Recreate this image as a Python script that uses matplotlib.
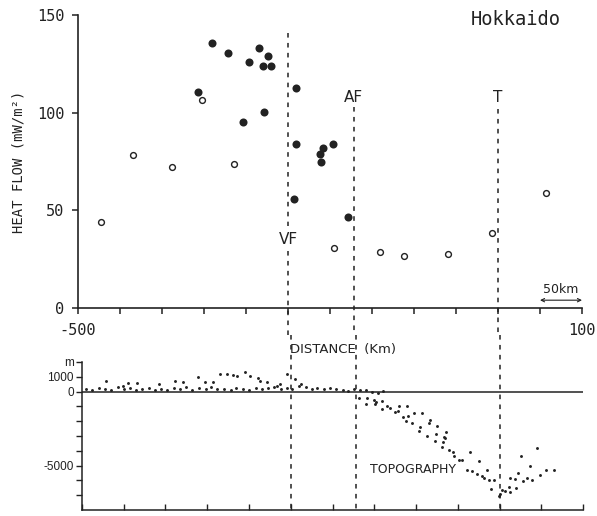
import matplotlib
matplotlib.use("Agg")
import matplotlib.pyplot as plt

# ---------------- data ----------------
# heat flow, filled symbols (distance km, mW/m2)
hf_filled_x = [-341, -322, -285, -274, -297, -280, -270, -357, -240, -278, -303,
               -240, -208, -196, -212, -211, -243, -179]
hf_filled_y = [135.7, 130.6, 133.1, 129.0, 126.0, 123.9, 123.9, 110.6, 112.6, 100.4,
               95.2, 84.0, 81.9, 84.0, 78.8, 74.8, 55.8, 46.6]
# heat flow, open symbols
hf_open_x = [-434, -388, -352, -314, -473, -195, -141, -112, -59, -7, 57]
hf_open_y = [78.3, 72.2, 106.5, 73.7, 44.0, 30.7, 28.7, 26.6, 27.6, 38.4, 58.9]

# topography (distance km, elevation m)
topo_land_x = [-495, -488, -480, -472, -465, -457, -450, -442, -435, -428, -420, -413,
               -405, -398, -390, -383, -375, -368, -360, -352, -345, -338, -330, -322,
               -315, -307, -300, -292, -285, -277, -270, -262, -255, -248, -240, -232,
               -225, -218, -210, -203, -196, -188, -181, -174, -167, -160, -153, -146,
               -139]
topo_land_y = [150, 100, 250, 200, 120, 280, 150, 220, 100, 180, 260, 140,
               200, 120, 250, 160, 300, 130, 220, 180, 280, 150, 200, 120,
               250, 180, 130, 220, 160, 260, 300, 200, 250, 150, 350, 280,
               200, 250, 180, 220, 150, 120, 60, 200, 80, 100, 0, -80, 50]
topo_high_x = [-471, -451, -445, -434, -408, -389, -379, -361, -353, -343, -335, -326,
               -319, -314, -305, -299, -289, -287, -278, -267, -263, -254, -245, -238]
topo_high_y = [700, 360, 590, 590, 540, 700, 630, 990, 630, 630, 1220, 1220,
               1150, 1030, 1330, 1030, 920, 700, 630, 400, 540, 1220, 860, 500]
topo_slope_x = [-168, -159, -160, -150, -148, -141, -149, -141, -135, -131, -120, -111,
                -125, -121, -116, -110, -105, -112, -102, -93, -95, -96, -83, -85,
                -87, -75, -76, -77, -65, -69, -64, -66, -68, -60, -55, -49,
                -45, -35, -39, -33, -27, -25, -21, -18, -15, -12, -7, -10,
                -1, 1, 3, 7, 11, 12, 13, 18, 20, 22, 26, 28,
                33, 36, 39, 45, 48, 56, 65, -56]
topo_slope_y = [-430, -430, -830, -540, -720, -650, -830, -1170, -950, -1100, -950, -950,
                -1400, -1330, -1710, -1670, -2120, -2010, -1440, -1440, -2390, -2680, -1890, -2120,
                -2970, -2300, -2840, -3310, -3130, -3740, -2720, -3060, -3430, -3960, -4320, -4640,
                -4590, -4100, -5270, -5380, -5540, -4710, -5720, -5830, -5320, -5990, -5990, -6570,
                -7030, -6890, -6620, -6740, -6440, -6800, -5830, -5900, -6510, -5490, -4320, -6060,
                -5830, -5000, -5990, -3800, -5610, -5320, -5320, -4050]

faults = {"VF": -250, "AF": -172, "T": 0}

# ---------------- figure ----------------
W, H = 597, 516
fig = plt.figure(figsize=(W / 100, H / 100), dpi=100)
mono = "DejaVu Sans Mono"
ink = "#222222"

ax1 = fig.add_axes([78 / W, 1 - 308 / H, 504 / W, 293 / H])
ax1.set_xlim(-500, 100)
ax1.set_ylim(0, 150)
for s in ("top", "right"):
    ax1.spines[s].set_visible(False)
for s in ("left", "bottom"):
    ax1.spines[s].set_linewidth(1.2)
    ax1.spines[s].set_color(ink)
ax1.set_yticks([0, 50, 100, 150])
ax1.set_yticklabels(["0", "50", "100", "150"], fontfamily=mono, fontsize=11, color=ink)
xt = list(range(-500, 101, 50))
ax1.set_xticks(xt)
ax1.set_xticklabels(["-500" if v == -500 else ("100" if v == 100 else "") for v in xt],
                    fontfamily=mono, fontsize=11, color=ink)
ax1.tick_params(axis="both", direction="out", length=4, width=1.1, color=ink)
ax1.tick_params(axis="y", pad=6)
ax1.tick_params(axis="x", pad=7)
ax1.set_ylabel("HEAT FLOW (mW/m²)", fontfamily=mono, fontsize=10, labelpad=8, color=ink)
ax1.patch.set_alpha(0)

ax1.plot(hf_filled_x, hf_filled_y, "o", color=ink, ms=5.8, mew=0, clip_on=False)
ax1.plot(hf_open_x, hf_open_y, "o", mfc="white", mec=ink, ms=4.2, mew=1.0, clip_on=False)

ax1.text(0.958, 0.983, "Hokkaido", transform=ax1.transAxes, ha="right", va="center",
         fontfamily=mono, fontsize=13.5, color=ink)

dash = dict(color=ink, lw=1.1, linestyle=(0, (3, 3.5)), clip_on=False)
# upper segments of fault lines (top panel)
ax1.plot([faults["VF"]] * 2, [141, 42], **dash)
ax1.plot([faults["VF"]] * 2, [29, -14], **dash)
ax1.plot([faults["AF"]] * 2, [103, -14], **dash)
ax1.plot([faults["T"]] * 2, [102, -14], **dash)

ax1.text(faults["VF"], 35, "VF", ha="center", va="center", fontsize=11, color=ink)
ax1.text(faults["AF"], 108, "AF", ha="center", va="center", fontsize=11, color=ink)
ax1.text(faults["T"], 108, "T", ha="center", va="center", fontsize=11, color=ink)

ax1.annotate("", xy=(50, 4), xytext=(100, 4),
             arrowprops=dict(arrowstyle="<->", lw=0.8, color=ink,
                             shrinkA=0, shrinkB=0, mutation_scale=6))
ax1.text(75, 9.5, "50km", ha="center", va="center", fontsize=9, color=ink)

ax1.text(-248, -21, "DISTANCE  (Km)", ha="left", va="center", fontsize=9.5,
         clip_on=False, color=ink)

# ---------------- bottom panel ----------------
ax2 = fig.add_axes([82 / W, 1 - 510 / H, 501 / W, 148 / H])
ax2.set_xlim(-500, 100)
ax2.set_ylim(-8000, 2000)
for s in ("top", "right"):
    ax2.spines[s].set_visible(False)
for s in ("left", "bottom"):
    ax2.spines[s].set_linewidth(1.1)
    ax2.spines[s].set_color(ink)
ax2.patch.set_alpha(0)
ax2.set_xticks(xt)
ax2.set_xticklabels([])
ax2.tick_params(axis="x", direction="in", length=4, width=1.0, color=ink)
yt = list(range(-7000, 2001, 1000))
ax2.set_yticks(yt)
lab = {2000: "m", 1000: "1000", 0: "0", -5000: "-5000"}
ax2.set_yticklabels([lab.get(v, "") for v in yt], fontfamily="Liberation Sans",
                    fontsize=8.5, color=ink)
ax2.tick_params(axis="y", direction="out", length=4, width=1.0, pad=2, color=ink)
ax2.axhline(0, color=ink, lw=1.1)

ax2.plot(topo_land_x, topo_land_y, "o", color=ink, ms=2.1, mew=0)
ax2.plot(topo_high_x, topo_high_y, "o", color=ink, ms=2.1, mew=0)
ax2.plot(topo_slope_x, topo_slope_y, "o", color=ink, ms=2.1, mew=0)

for k in ("VF", "AF", "T"):
    ax2.plot([faults[k]] * 2, [3850, -8000], **dash)

ax2.text(-103, -5270, "TOPOGRAPHY", ha="center", va="center", fontsize=9, color=ink)

fig.savefig("out.png", dpi=100)
